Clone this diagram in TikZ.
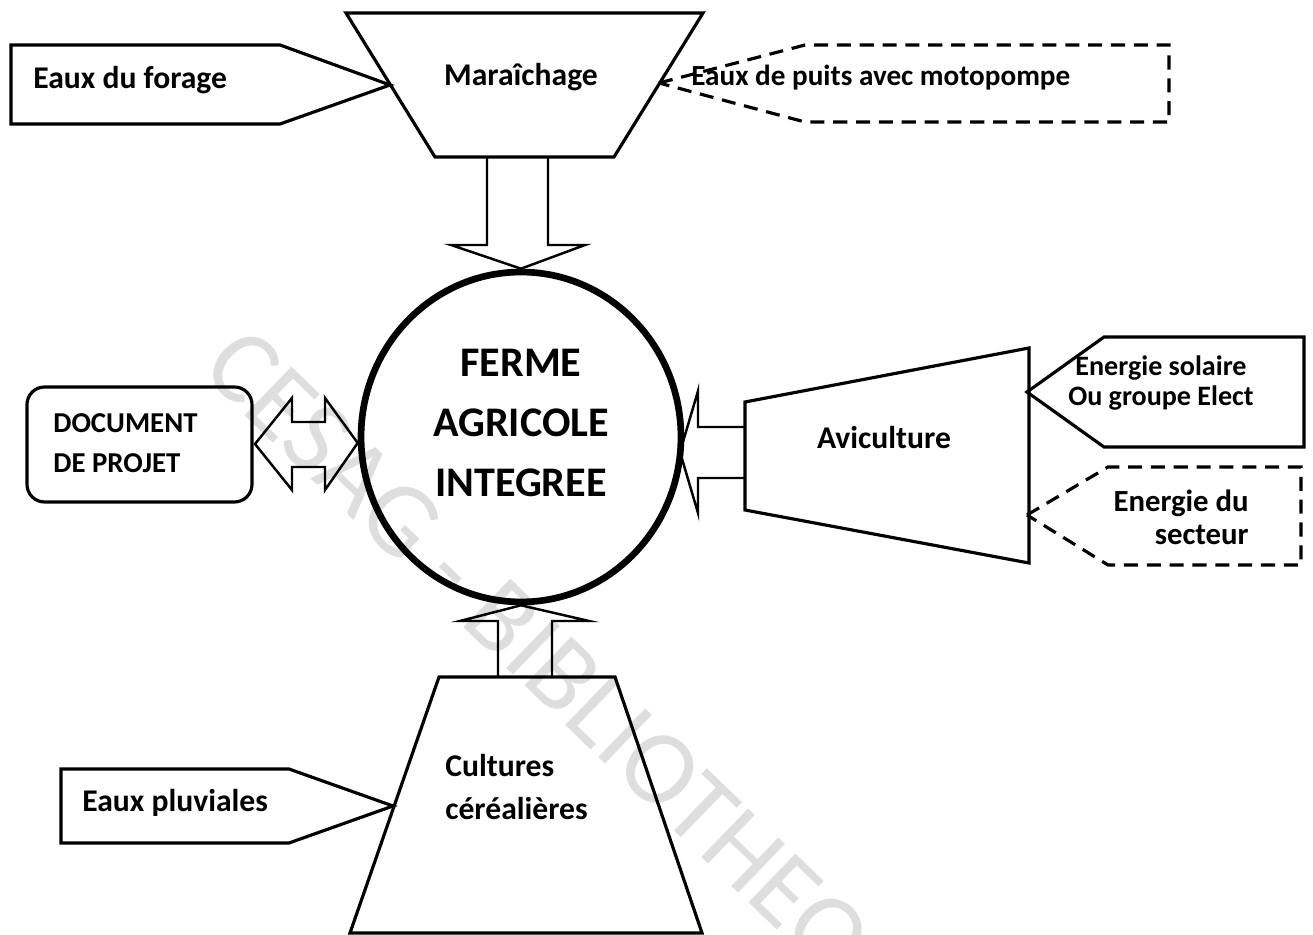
\documentclass[tikz,border=0pt]{standalone}
\usepackage{fontspec}
\setmainfont{Carlito}
\usetikzlibrary{shapes.geometric, positioning}
\tikzstyle{bloc} = [draw=black, line width=1.8pt, line join=miter]
\tikzstyle{appel} = [draw=black, line width=1.8pt, line join=miter]
\tikzstyle{pointille} = [draw=black, line width=1.8pt, dash pattern=on 8pt off 5pt]
\tikzstyle{fleche} = [draw=black, line width=1.4pt, line join=miter]
\tikzstyle{txt} = [inner sep=0pt, font=\bfseries\fontsize{18}{20}\selectfont]
\tikzstyle{grostxt} = [inner sep=0pt, align=center, font=\bfseries\fontsize{24}{34}\selectfont]
\tikzstyle{filigrane} = [inner sep=0pt, text=black!13, font=\fontsize{60}{60}\selectfont]

\begin{document}
\begin{tikzpicture}[x=0.02cm, y=-0.02cm]
        \useasboundingbox (0,0) rectangle (1313,935);
        % Watermark
        \begin{scope}
        \clip (0,0) rectangle (1313,935);
        \node (cesag) [filigrane, rotate=-44, anchor=west] at (218,352) {CESAG - BIBLIOTHEQUE};
        \end{scope}

        % Centre
        \node (cercle) [ellipse, draw, line width=3.8pt, minimum width=6.4cm, minimum height=6.6cm, inner sep=0pt] at (521,437) {};
        \node (ferme) [grostxt] at (521,423) {FERME\\AGRICOLE\\INTEGREE};

        % Top
        \draw [bloc] (346,13) -- (703,13) -- (614,157) -- (435,157) -- cycle;
        \node (mara) [txt] at (521,77) {Maraîchage};
        \draw [appel] (11,45) -- (280,45) -- (390,85) -- (280,124) -- (11,124) -- cycle;
        \node (forage) [txt, anchor=west] at (33,80) {Eaux du forage};
        \draw [pointille] (659,83) -- (805,45) -- (1169,45) -- (1169,122) -- (805,122) -- cycle;
        \node (puits) [txt, anchor=west, font=\bfseries\fontsize{16.6}{18}\selectfont] at (691,78) {Eaux de puits avec motopompe};

        % Left
        \draw [appel, rounded corners=10pt] (27,387) rectangle (252,502);
        \node (docu) [txt, anchor=west, align=left, font=\bfseries\fontsize{16.4}{22.7}\selectfont] at (53,443) {DOCUMENT\\DE PROJET};

        % Right
        \draw [bloc] (745,402) -- (1029,348) -- (1029,563) -- (745,510) -- cycle;
        \node (avic) [txt] at (884,438) {Aviculture};
        \draw [appel] (1027,392) -- (1104,337) -- (1304,337) -- (1304,447) -- (1104,447) -- cycle;
        \node (solaire) [txt, align=center, font=\bfseries\fontsize{16}{17.6}\selectfont] at (1161,383) {Energie solaire\\Ou groupe Elect};
        \draw [pointille] (1027,515) -- (1108,467) -- (1301,467) -- (1301,565) -- (1108,565) -- cycle;
        \node (secteur) [txt, align=right, anchor=east, font=\bfseries\fontsize{17.5}{18.7}\selectfont] at (1249,517) {Energie du\\secteur};

        % Bottom
        \draw [bloc] (439,677) -- (615,677) -- (702,933) -- (350,933) -- cycle;
        \node (cultures) [txt, anchor=west, align=left, font=\bfseries\fontsize{18}{24}\selectfont] at (445,787) {Cultures\\céréalières};
        \draw [appel] (61,769) -- (289,769) -- (393,806) -- (289,843) -- (61,843) -- cycle;
        \node (pluie) [txt, anchor=west] at (82,803) {Eaux pluviales};

        % Block arrows
        \draw [fleche] (487,157) -- (487,245) -- (451,245) -- (cercle.north) -- (585,245) -- (548,245) -- (548,157);
        \draw [fleche] (498,677) -- (498,621) -- (460,621) -- (cercle.south) -- (589,621) -- (552,621) -- (552,677);
        \draw [fleche] (255,444) -- (292,398) -- (292,422) -- (325,422) -- (325,398) -- (cercle.west |- docu.east) -- (325,490) -- (325,467) -- (292,467) -- (292,490) -- cycle;
        \draw [fleche] (745,427) -- (698,427) -- (698,391) -- (680,452) -- (698,513) -- (698,478) -- (745,478);
\end{tikzpicture}
\end{document}
